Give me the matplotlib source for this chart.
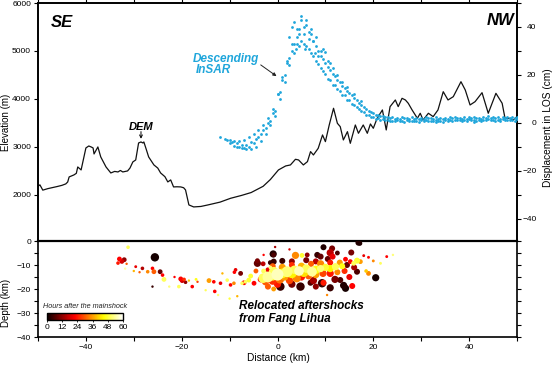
import numpy as np
import matplotlib
matplotlib.use("Agg")
import matplotlib.pyplot as plt
from matplotlib.ticker import MultipleLocator, FixedLocator

plt.rcParams['font.family'] = ['Liberation Sans', 'DejaVu Sans']

# ---------------- DATA ----------------
# DEM elevation profile (distance km, elevation m)
dem_x = [-50.0, -49.6, -49.0, -48.0, -47.3, -46.0, -45.0, -44.2, -43.8, -43.5, -42.5, -42.0,
         -41.7, -41.0, -40.5, -40.0, -39.4, -38.9, -38.5, -38.3, -37.5, -36.9, -35.8, -34.8,
         -34.0, -33.3, -32.8, -32.3, -31.3, -30.8, -30.2, -29.6, -29.0, -28.5, -28.1, -27.9,
         -27.4, -26.9, -25.8, -25.0, -24.4, -23.5, -22.9, -22.3, -21.7, -21.0, -20.2, -19.6,
         -19.2, -18.5, -17.5, -16.0, -14.6, -12.0, -9.8, -7.5, -5.5, -3.0, -1.5, 0.2, 1.7,
         2.7, 3.75, 4.4, 5.4, 6.25, 6.9, 7.5, 8.5, 9.4, 10.0, 10.8, 11.7, 12.5, 13.1, 13.75,
         14.6, 15.2, 16.25, 16.9, 17.9, 18.75, 19.4, 20.0, 20.8, 21.9, 22.7, 23.5, 24.6, 25.2,
         26.0, 26.7, 27.3, 28.1, 29.2, 29.8, 30.4, 31.5, 32.5, 33.5, 34.6, 35.6, 36.7, 38.3,
         39.2, 40.2, 41.25, 42.7, 44.0, 45.6, 46.9, 47.5, 48.5, 49.2, 50.0]
dem_elev = [2180, 2210, 2100, 2130, 2146, 2175, 2200, 2230, 2270, 2375, 2417, 2450,
            2583, 2521, 2750, 2979, 3020, 3000, 2979, 2854, 3000, 2792, 2583, 2458,
            2490, 2479, 2510, 2479, 2500, 2560, 2688, 2729, 3083, 3104, 3083, 3104,
            2950, 2792, 2625, 2560, 2458, 2380, 2271, 2313, 2167, 2170, 2167, 2150,
            2104, 1792, 1750, 1760, 1790, 1850, 1930, 1990, 2050, 2180, 2320, 2521, 2604,
            2625, 2743, 2729, 2625, 2694, 2903, 2833, 2972, 3250, 3111, 3458, 3806, 3493, 3423, 3146,
            3319, 3076, 3458, 3285, 3458, 3285, 3479, 3389, 3597, 3771, 3354, 3840, 3979, 3840,
            4014, 3979, 3910, 3771, 3597, 3702, 3562, 3702, 3632, 3771, 4152, 3979, 4048, 4360,
            4187, 3875, 3944, 4131, 3702, 4118, 3910, 3597, 3597, 3562, 3632]

# Descending InSAR LOS displacement (cm), several profile tracks
insar_x_a = list(range(-12, 51))                 # tracks 1 and 3
insar_x_b = [v + 0.5 for v in range(-12, 51)]    # tracks 2 and 4
nan = float('nan')
insar_t1 = [-6.0, -6.5, -7.0, -7.5, -7.5, -7.0, -6.0, -4.5, -3.0, -1.0, 2.0, 6.0,
            12.0, 19.0, 26.0, 33.0, 39.0, 43.0, 41.0, 37.0, 32.0, 28.0, 25.0, 22.0, 19.5,
            17.0, 14.5, 12.5, 10.5, 8.5, 6.5, 5.0, 4.0,
            3.2, 2.8, 2.5, 2.3, 2.2, 2.4, 2.1, 2.3, 2.0, 2.2, 2.4, 2.1, 2.3, 2.2, 2.0, 2.4,
            2.5, 2.2, 2.3, 2.6, 2.4, 2.2, 2.5, 2.7, 2.4, 2.3, 2.6, 2.5, 2.4, 2.6]
insar_t2 = [nan, -7.0, -7.8, -8.5, -9.0, -9.0, -8.0, -6.5, -4.5, -2.0, 1.0, 5.0,
            13.0, 20.0, 27.0, 33.0, 37.0, 40.0, 38.0, 34.0, 30.0, 26.5, 23.5, 20.5, 18.0,
            15.5, 13.5, 11.5, 9.5, 7.5, 6.0, 4.5, 3.5,
            2.8, 2.4, 2.0, 1.8, 1.7, 1.9, 1.6, 1.8, 1.5, 1.7, 1.9, 1.6, 1.8, 1.7, 1.5, 1.9,
            2.0, 1.7, 1.8, 2.1, 1.9, 1.7, 2.0, 2.2, 1.9, 1.8, 2.1, 2.0, 1.9, 2.1]
insar_t3 = [nan, nan, -8.5, -9.5, -10.0, -10.5, -10.0, -8.5, -6.0, -3.0, 0.0, 4.0,
            12.0, 18.0, 25.0, 30.0, 33.0, 34.0, 32.0, 29.0, 26.0, 23.0, 20.5, 18.0, 16.0,
            13.5, 11.5, 9.5, 7.5, 6.0, 4.5, 3.5, 2.5,
            2.0, 1.5, 1.2, 1.0, 1.1, 0.9, 1.2, 1.0, 0.8, 1.1, 1.3, 1.0, 1.2, 0.9, 1.1, 1.3,
            1.4, 1.1, 1.2, 1.5, 1.3, 1.1, 1.4, 1.6, 1.3, 1.2, 1.5, 1.4, 1.3, 1.5]
insar_t4 = [nan, nan, nan, -10.0, -10.5, -11.0, -11.0, -10.0, -7.5, -4.5, -1.0, 3.0,
            10.0, 17.0, 24.0, 29.0, 32.0, 33.0, 31.0, 28.0, 24.5, 21.5, 18.5, 16.0, 14.0,
            11.5, 9.5, 8.0, 6.5, 5.0, 3.5, 2.5, 1.8,
            1.4, 1.1, 0.9, 0.7, 0.8, 0.6, 0.9, 0.7, 0.5, 0.8, 1.0, 0.7, 0.9, 0.6, 0.8, 1.0,
            1.1, 0.8, 0.9, 1.2, 1.0, 0.8, 1.1, 1.3, 1.0, 0.9, 1.2, 1.1, 1.0, 1.2]
# scattered extra InSAR points around the peak
insar_extra_x = [3.0, 3.5, 4.0, 4.5, 5.0, 5.5, 6.0, 6.5, 7.0, 7.5, 8.0, 8.5, 9.0, 9.5,
                 10.5, 11.5, 12.5, 13.5, 14.5, 2.5, 3.8, 5.8, 7.8, 10.0, 11.0, 16.0, 17.5,
                 33.0, 41.0]
insar_extra_d = [40.0, 42.0, 36.0, 39.0, 44.5, 37.0, 43.0, 35.0, 39.0, 34.0, 36.0, 28.0,
                 30.0, 31.0, 26.0, 23.0, 20.0, 17.0, 15.0, 36.0, 31.0, 31.0, 29.0, 29.5,
                 25.0, 12.0, 9.0, 0.2, 0.5]

# Relocated aftershocks: distance (km), depth (km), hours after mainshock, magnitude
eq_x = [-31.2, -33.0, -32.5, -32.0, -33.3, -31.5, -31.8, -25.6, -29.6, -30.0, -28.2, -28.8,
        -27.1, -26.1, -25.8, -24.5, -24.0, -23.7, -26.1, -22.6, -20.2, -19.9, -19.5, -19.2,
        -20.6, -17.8, -16.7, -18.5, -14.3, -13.3, -13.1, -12.4, -11.9, -11.5, -10.5, -9.8,
        -9.1, -8.75, -8.4, -7.7, -7.4, -6.7, -6.0, -7.0, -9.0, -5.6, -4.9, -4.2, -4.2, -2.9,
        -1.8, -0.9, -0.8, -1.5, -1.5, -2.9, -3.5, -0.8, -10.0, -15.0, -21.5, -17.0,
        -3.0, -2.0, -1.0, -0.8, 0.0, 1.0, 2.0, 3.0, 3.5, 4.5, 5.5, 6.0, 7.2, 8.0, 9.0, 10.0,
        11.0, 12.1, 13.5, 15.9, 16.6, 17.3,
        -2.5, -1.0, 0.5, 1.5, 2.5, 4.0, 5.0, 6.5, 8.0, 9.5, 11.0, 12.5, 14.0, -1.0, 1.0, 3.0,
        5.0, 7.0, 9.0, 11.0, 13.0, 14.2, 0.0, -2.0,
        1.0, 3.75, 5.1, 6.2, 8.3, 9.0, 9.6, 11.4, 11.0, 11.5, 10.5, 12.5, 15.4, 15.2, 16.9,
        17.2, 19.0, 22.8, 24.1, 21.5, 20.0, 18.0, 20.5, 19.0, 18.5, 16.6, 14.2, 13.8, 15.6,
        13.1, 9.3, 9.6, 6.9, 4.8, 0.6, 10.35, -0.8, -0.5, 2.5, 12.0, 7.5, 3.0, 11.0, 8.0,
        15.0, 16.0, 14.5, 6.0, 8.0, 3.0, -3.0, -2.0, -4.5]
eq_depth = [-2.6, -7.5, -8.5, -7.8, -9.2, -9.5, -11.5, -6.8, -10.7, -12.5, -11.4, -13.0,
            -12.8, -11.4, -12.8, -12.8, -14.2, -16.0, -19.0, -19.0, -15.8, -16.5, -16.0, -17.2,
            -19.0, -19.0, -17.0, -16.5, -16.5, -17.0, -21.0, -22.5, -17.6, -13.5, -16.3, -18.3,
            -17.6, -12.0, -23.0, -13.5, -17.6, -17.0, -16.3, -17.4, -13.0, -14.6, -17.6, -9.3, -8.2, -5.8,
            -13.5, -5.4, -8.6, -9.0, -11.0, -12.5, -16.0, -20.0, -24.0, -20.5, -15.0, -16.0,
            -15.5, -15.0, -14.5, -12.8, -14.0, -13.5, -12.8, -13.5, -12.0, -12.5, -13.0, -11.5,
            -12.8, -12.0, -11.5, -11.0, -11.5, -10.7, -10.5, -9.3, -8.2, -8.6,
            -17.0, -16.5, -16.0, -15.0, -16.5, -15.5, -15.0, -14.5, -14.0, -13.5, -13.5, -13.0,
            -12.5, -10.5, -11.0, -10.0, -10.5, -9.5, -9.5, -9.0, -9.0, -7.6, -18.0, -19.0,
            -8.3, -6.0, -6.0, -5.8, -5.8, -6.5, -2.6, -3.1, -4.9, -6.5, -7.5, -5.0, -4.8, -8.6, -0.7,
            -1.0, -6.8, -6.5, -5.8, -9.3, -8.3, -6.1, -15.3, -13.5, -12.5, -12.8, -19.7, -18.5, -18.75,
            -16.25, -17.6, -17.4, -17.4, -19.0, -19.0, -22.5, -5.8, -2.5, -3.5, -16.0, -16.5, -18.0,
            -19.5, -19.0, -15.0, -11.0, -10.0, -8.0, -8.5, -8.5, -9.5, -12.0, -12.5]
eq_hours = [50, 22, 18, 12, 24, 30, 55, 1, 20, 38, 15, 30,
            34, 22, 30, 8, 22, 50, 4, 52, 22, 18, 26, 12,
            50, 22, 28, 40, 36, 22, 22, 52, 20, 38, 50, 22,
            34, 20, 38, 10, 50, 50, 48, 22, 22, 48, 22, 8, 10, 22,
            8, 2, 4, 4, 52, 50, 22, 36, 48, 50, 22, 46,
            50, 54, 48, 50, 56, 46, 52, 44, 50, 56, 42, 50, 54, 46, 52, 48, 44, 50, 46, 50, 48, 36,
            30, 26, 32, 36, 28, 34, 24, 30, 36, 28, 24, 34, 26, 30, 36, 26, 38, 30, 34, 24, 36,
            22, 24, 30,
            4, 34, 48, 12, 4, 8, 2, 10, 16, 20, 8, 6, 10, 22, 2,
            2, 22, 22, 52, 50, 34, 20, 1, 34, 40, 6, 1, 2, 22,
            6, 4, 24, 6, 4, 4, 34, 6, 14, 18, 10, 14, 10, 4, 12,
            20, 14, 8, 10, 16, 12, 16, 20, 30]
eq_mag = [1.5, 2, 2, 2, 1.5, 1, 1, 3.5, 1.2, 1, 1.5, 1,
          1.5, 1.5, 2, 2, 1.5, 2, 1, 1, 2, 2, 1.5, 1.5,
          1.5, 1.5, 1, 1, 2, 1.5, 1.5, 1, 1.5, 1, 1.5, 1.5,
          1.5, 1.5, 1, 2, 1.5, 1.5, 2, 2, 1.5, 2, 2, 3, 2, 1,
          2, 3, 2.5, 2, 1.5, 2, 2.5, 2, 1, 1, 1, 1.2,
          4, 4.5, 4, 4, 5, 4, 4.5, 4, 3.5, 4, 4, 3.5, 4, 3.5, 3, 3, 3, 3, 2.5, 2, 2.5, 2,
          3, 3.5, 3.5, 3, 3, 3.5, 3, 3, 3, 3, 3, 2.5, 2.5, 2.5, 3, 2.5, 3, 2.5, 3, 2.5, 2.5,
          2, 3, 2.5,
          2.5, 3, 2, 2, 2.5, 2.5, 2.5, 2.5, 3, 2.5, 2.5, 2, 2.5, 2, 2.5,
          2, 1.2, 1.2, 1, 1.2, 1.2, 1.2, 3, 2, 1.5, 2.5, 3, 3, 2.5,
          2.5, 3.5, 2.5, 2.5, 3.5, 3.5, 1, 2, 1, 1, 3, 3, 3, 3, 2.5,
          2.5, 2.5, 2.5, 2.5, 2.5, 2.5, 2, 2, 2]

x_ticks = [-40, -20, 0, 20, 40]
elev_ticks = [2000, 3000, 4000, 5000, 6000]
los_ticks = [-40, -20, 0, 20, 40]
depth_ticks = [-40, -30, -20, -10, 0]
cbar_ticks = [0, 12, 24, 36, 48, 60]

# ---------------- FIGURE ----------------
W, H = 554, 366
fig = plt.figure(figsize=(W / 100, H / 100), dpi=100)
fig.patch.set_facecolor('white')

L, R = 38, 517
ax1 = fig.add_axes([L / W, 1 - 241 / H, (R - L) / W, 238 / H])
ax1r = ax1.twinx()
ax2 = fig.add_axes([L / W, 1 - 337 / H, (R - L) / W, 96 / H])

tick_fs = 6
lw_sp = 1.2
insar_col = '#1fa6db'

# top panel: DEM
ax1.plot(dem_x, dem_elev, color='#111111', lw=0.9, zorder=3)
ax1.set_xlim(-50, 50)
ax1.set_ylim(1040, 6000)
ax1.yaxis.set_major_locator(FixedLocator(elev_ticks))
ax1.tick_params(axis='y', which='both', direction='out', length=3, width=0.8,
                labelsize=tick_fs, pad=2)
ax1.xaxis.set_major_locator(MultipleLocator(10))
ax1.tick_params(axis='x', which='both', bottom=False, labelbottom=False, top=True,
                labeltop=False, direction='out', length=3, width=0.8)
for s in ax1.spines.values():
    s.set_linewidth(lw_sp)
ax1.spines['bottom'].set_visible(False)

# InSAR on right axis
ax1r.set_ylim(-49.2, 50)
for xs, ys in [(insar_x_a, insar_t1), (insar_x_b, insar_t2),
               (insar_x_a, insar_t3), (insar_x_b, insar_t4)]:
    ax1r.scatter(xs, ys, s=4.0, color=insar_col, linewidths=0, zorder=4)
ax1r.scatter(insar_extra_x, insar_extra_d, s=4.0, color=insar_col, linewidths=0, zorder=4)
ax1r.yaxis.set_major_locator(FixedLocator(los_ticks))
ax1r.yaxis.set_minor_locator(MultipleLocator(10))
ax1r.tick_params(axis='y', which='major', direction='out', length=3, width=0.8,
                 labelsize=tick_fs, pad=11)
ax1r.tick_params(axis='y', which='minor', direction='out', length=3, width=0.8)
for t in ax1r.yaxis.get_major_ticks():
    t.label2.set_horizontalalignment('right')
for s in ax1r.spines.values():
    s.set_linewidth(lw_sp)
ax1r.spines['bottom'].set_visible(False)

# annotations top panel
ax1.text(0.027, 0.918, 'SE', transform=ax1.transAxes, fontsize=12, fontweight='bold',
         fontstyle='italic', ha='left', va='center')
ax1.text(0.995, 0.926, 'NW', transform=ax1.transAxes, fontsize=12, fontweight='bold',
         fontstyle='italic', ha='right', va='center')
ax1.text(-28.5, 3420, 'DEM', fontsize=8, fontweight='bold', fontstyle='italic',
         ha='center', va='center')
ax1.annotate('', xy=(-28.5, 3170), xytext=(-28.5, 3320),
             arrowprops=dict(arrowstyle='->', color='black', lw=0.7,
                             shrinkA=0, shrinkB=0, mutation_scale=5))
fig.text(193 / W, 1 - 59 / H, 'Descending', color=insar_col, fontsize=8.5,
         fontweight='bold', fontstyle='italic', ha='left', va='center')
fig.text(196 / W, 1 - 70 / H, 'InSAR', color=insar_col, fontsize=8.5,
         fontweight='bold', fontstyle='italic', ha='left', va='center')
ax1r.annotate('', xy=(-0.2, 19.5), xytext=(-3.5, 24.2),
              arrowprops=dict(arrowstyle='-|>', color='#222222', lw=0.7,
                              shrinkA=0, shrinkB=0, mutation_scale=5))

# bottom panel: aftershocks
ex = np.array(eq_x)
ed = np.array(eq_depth)
eh = np.array(eq_hours)
em = np.array(eq_mag)
order = np.argsort(eh, kind='stable')
sizes = 3.0 * em ** 2
sc = ax2.scatter(ex[order], ed[order], s=sizes[order], c=eh[order], cmap='hot',
                 vmin=0, vmax=60, linewidths=0, zorder=3)
ax2.set_xlim(-50, 50)
ax2.set_ylim(-40, 0)
ax2.xaxis.set_major_locator(FixedLocator(x_ticks))
ax2.xaxis.set_minor_locator(MultipleLocator(10))
ax2.yaxis.set_major_locator(FixedLocator(depth_ticks))
ax2.yaxis.set_minor_locator(MultipleLocator(5))
ax2.tick_params(axis='both', which='both', direction='out', width=0.8,
                labelsize=tick_fs)
ax2.tick_params(axis='both', which='major', length=3, pad=2)
ax2.tick_params(axis='both', which='minor', length=3)
ax2.tick_params(axis='y', which='both', right=True)
for s in ax2.spines.values():
    s.set_linewidth(lw_sp)
ax2.spines['top'].set_linewidth(1.6)

fig.text(239 / W, 1 - 306 / H, 'Relocated aftershocks', fontsize=8.5, fontweight='bold',
         fontstyle='italic', ha='left', va='center')
fig.text(239 / W, 1 - 319 / H, 'from Fang Lihua', fontsize=8.5, fontweight='bold',
         fontstyle='italic', ha='left', va='center')

# colorbar
cax = fig.add_axes([47 / W, 1 - 320 / H, 76 / W, 7 / H])
cb = fig.colorbar(sc, cax=cax, orientation='horizontal', ticks=cbar_ticks)
cb.outline.set_linewidth(1.0)
cax.tick_params(labelsize=tick_fs, length=1.5, width=0.6, pad=1.5)
fig.text(43 / W, 1 - 306 / H, 'Hours after the mainshock', fontsize=5.2,
         fontstyle='italic', ha='left', va='center', color='#222222')

# axis labels
fig.text(6 / W, 1 - 122 / H, 'Elevation (m)', rotation=90, fontsize=7,
         ha='center', va='center')
fig.text(548 / W, 1 - 128 / H, 'Displacement in LOS (cm)', rotation=90, fontsize=7.3,
         ha='center', va='center')
fig.text(6 / W, 1 - 303 / H, 'Depth (km)', rotation=90, fontsize=7,
         ha='center', va='center')
fig.text(278 / W, 1 - 358 / H, 'Distance (km)', fontsize=7.3, ha='center', va='center')

fig.savefig('out.png', dpi=100)
